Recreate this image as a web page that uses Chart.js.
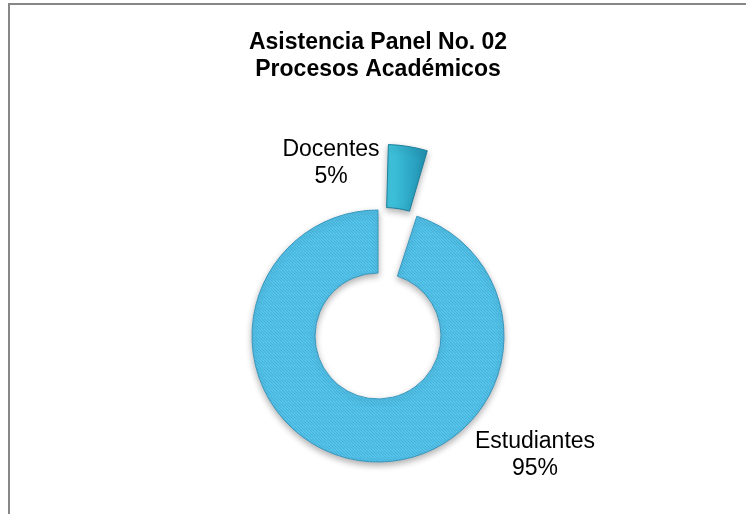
<!DOCTYPE html>
<html>
<head>
<meta charset="utf-8">
<script src="https://cdn.jsdelivr.net/npm/chart.js@4/dist/chart.umd.min.js"></script>
<style>
  body { margin: 0; background: #ffffff; }
  #wrap { width: 746px; height: 514px; }
</style>
</head>
<body>
<div id="wrap"><canvas id="myChart" width="746" height="514"></canvas></div>
<script>
const categories = ['Docentes', 'Estudiantes'];
const percents = [5, 95];
const titleLines = ['Asistencia Panel No. 02', 'Procesos Académicos'];

// stripes like the excel texture
function stripePattern() {
    var c = document.createElement('canvas');
    c.width = 6;
    c.height = 6;
    var p = c.getContext('2d');
    p.fillStyle = '#64cef1';
    p.fillRect(0, 0, 6, 6);
    p.strokeStyle = '#44b4de';
    p.lineWidth = 1.3;
    for (var k = -6; k <= 12; k += 3) {
        p.beginPath();
        p.moveTo(k, 0);
        p.lineTo(k + 6, 6);
        p.stroke();
    }
    return p.createPattern(c, 'repeat');
}

var ringFill = null;

// teal gradient for the exploded slice, stripes for the rest
function sliceFill(context) {
    var chart = context.chart;
    if (context.dataIndex === 0) {
        var g = chart.ctx.createLinearGradient(385, 0, 430, 0);
        g.addColorStop(0, '#3fc2dc');
        g.addColorStop(0.5, '#2aa3c2');
        g.addColorStop(1, '#1c85a4');
        return g;
    }
    if (!ringFill) ringFill = stripePattern();
    return ringFill;
}

// where the data labels sit, relative to the doughnut centre
const labelOffsets = [[-47, -186], [157, 106]];

const frame = {
    id: 'frame',
    beforeDraw(chart) {
        var ctx = chart.ctx;
        ctx.save();
        ctx.fillStyle = '#ffffff';
        ctx.fillRect(0, 0, chart.width, chart.height);
        ctx.strokeStyle = '#878787';
        ctx.lineWidth = 2;
        ctx.beginPath();
        ctx.moveTo(9, chart.height);
        ctx.lineTo(9, 4);
        ctx.lineTo(chart.width, 4);
        ctx.stroke();
        ctx.restore();
    },
    beforeDatasetsDraw(chart) {
        var ctx = chart.ctx;
        ctx.save();
        ctx.shadowColor = 'rgba(0,0,0,0.3)';
        ctx.shadowBlur = 6;
        ctx.shadowOffsetY = 3;
    },
    afterDatasetsDraw(chart) {
        var ctx = chart.ctx;
        ctx.restore();
        var arcs = chart.getDatasetMeta(0).data;
        ctx.save();
        ctx.fillStyle = '#000000';
        ctx.font = '23px "Liberation Sans", Arial, sans-serif';
        ctx.textAlign = 'center';
        ctx.textBaseline = 'middle';
        for (var i = 0; i < arcs.length; i++) {
            var x = arcs[i].x + labelOffsets[i][0];
            var y = arcs[i].y + labelOffsets[i][1];
            ctx.fillText(categories[i], x, y);
            ctx.fillText(percents[i] + '%', x, y + 27);
        }
        ctx.restore();
    }
};

var ctx = document.getElementById('myChart').getContext('2d');

var myChart = new Chart(ctx, {
    type: 'doughnut',
    data: {
        labels: categories,
        datasets: [{
            data: percents,
            backgroundColor: sliceFill,
            borderColor: ['#1d7f9c', '#3a98bf'],
            borderWidth: 1,
            offset: [156, 0]
        }]
    },
    options: {
        responsive: false,
        animation: false,
        radius: 126,
        cutout: '50%',
        layout: { padding: { left: 10, right: 0, top: 0, bottom: 0 } },
        plugins: {
            legend: { display: false },
            tooltip: { enabled: false },
            title: {
                display: true,
                text: titleLines,
                color: '#000000',
                font: { family: '"Liberation Sans", Arial, sans-serif', size: 23, weight: 'bold', lineHeight: '27px' },
                padding: { top: 29, bottom: 75 }
            }
        }
    },
    plugins: [frame]
});
</script>
</body>
</html>
